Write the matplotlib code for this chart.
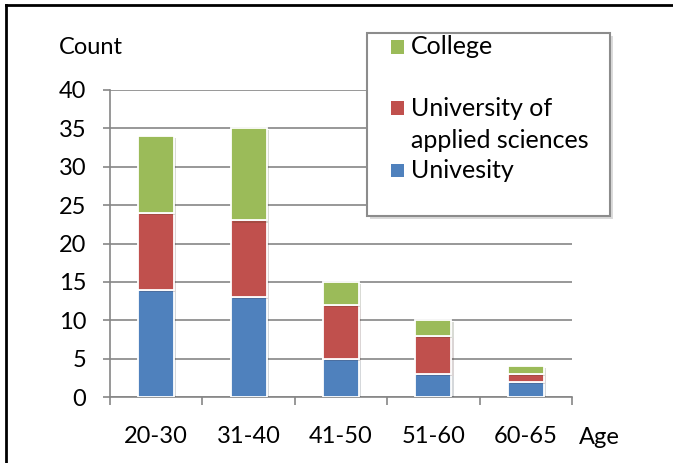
import matplotlib
matplotlib.use('Agg')
import matplotlib.pyplot as plt
import matplotlib.patches as mpatches
import matplotlib.patheffects as pe
import numpy as np

plt.rcParams['font.family'] = ['Lato', 'DejaVu Sans']

ages = ['20-30', '31-40', '41-50', '51-60', '60-65']
univ = [14, 13, 5, 3, 2]
applied = [10, 10, 7, 5, 1]
college = [10, 12, 3, 2, 1]
series_names = ['Univesity', 'University of\napplied sciences', 'College']
colors = ['#4F81BD', '#C0504D', '#9BBB59']
grid_col = '#868686'

W, H = 673, 463
fig = plt.figure(figsize=(W / 100, H / 100), dpi=100)
ax = fig.add_axes([110 / W, 1 - 397 / H, 462 / W, 307 / H])

x = np.arange(len(ages))
shadow = [pe.SimplePatchShadow(offset=(1.5, -1.5), alpha=0.18), pe.Normal()]
bottom = np.zeros(len(ages))
for vals, col in zip([univ, applied, college], colors):
    bars = ax.bar(x, vals, width=0.39, bottom=bottom, color=col,
                  edgecolor='white', linewidth=1.3, zorder=3)
    for b in bars:
        b.set_path_effects(shadow)
    bottom += np.array(vals)

ax.set_xlim(-0.5, len(ages) - 0.5)
ax.set_ylim(0, 40)
ax.set_yticks(range(0, 41, 5))
ax.yaxis.grid(True, color=grid_col, linewidth=1.2, zorder=0)
ax.set_axisbelow(True)

ax.set_xticks(x)
ax.set_xticklabels(ages)
ax.set_xticks(np.arange(-0.5, len(ages), 1.0), minor=True)
ax.tick_params(axis='x', which='major', length=0, pad=21, labelsize=17)
ax.tick_params(axis='x', which='minor', length=6, width=1.2, color=grid_col,
               direction='out')
ax.tick_params(axis='y', length=5, width=1.2, color=grid_col, pad=12,
               labelsize=17)

for s in ['top', 'right']:
    ax.spines[s].set_visible(False)
for s in ['left', 'bottom']:
    ax.spines[s].set_color(grid_col)
    ax.spines[s].set_linewidth(1.2)

fig.text(59 / W, 1 - 47 / H, 'Count', fontsize=17, va='center', ha='left')
fig.text(579 / W, 1 - 438 / H, 'Age', fontsize=17, va='center', ha='left')

# legend box, drawn by hand so the handles sit on the first text line
box = mpatches.Rectangle((367 / W, 1 - 216 / H), 243 / W, 183 / H,
                         transform=fig.transFigure, facecolor='white',
                         edgecolor='#8c8c8c', linewidth=1.5, zorder=5)
box.set_path_effects([pe.SimplePatchShadow(offset=(2, -2), alpha=0.2),
                      pe.Normal()])
fig.add_artist(box)
legend_rows = [(2, 47), (1, 108), (0, 170)]
for idx, ypx in legend_rows:
    sq = mpatches.Rectangle((391 / W, 1 - (ypx + 6.5) / H), 13 / W, 13 / H,
                            transform=fig.transFigure, facecolor=colors[idx],
                            edgecolor='none', zorder=6)
    fig.add_artist(sq)
    for k, line in enumerate(series_names[idx].split('\n')):
        fig.text(411 / W, 1 - (ypx + 33 * k) / H, line, fontsize=18,
                 va='center', ha='left', zorder=7)

# outer frame: top and left edges
fig.add_artist(plt.Line2D([6 / W, 1], [1 - 5 / H, 1 - 5 / H],
                          transform=fig.transFigure, color='black', lw=2))
fig.add_artist(plt.Line2D([6 / W, 6 / W], [0, 1 - 5 / H],
                          transform=fig.transFigure, color='black', lw=2))

fig.savefig('out.png', dpi=100)
